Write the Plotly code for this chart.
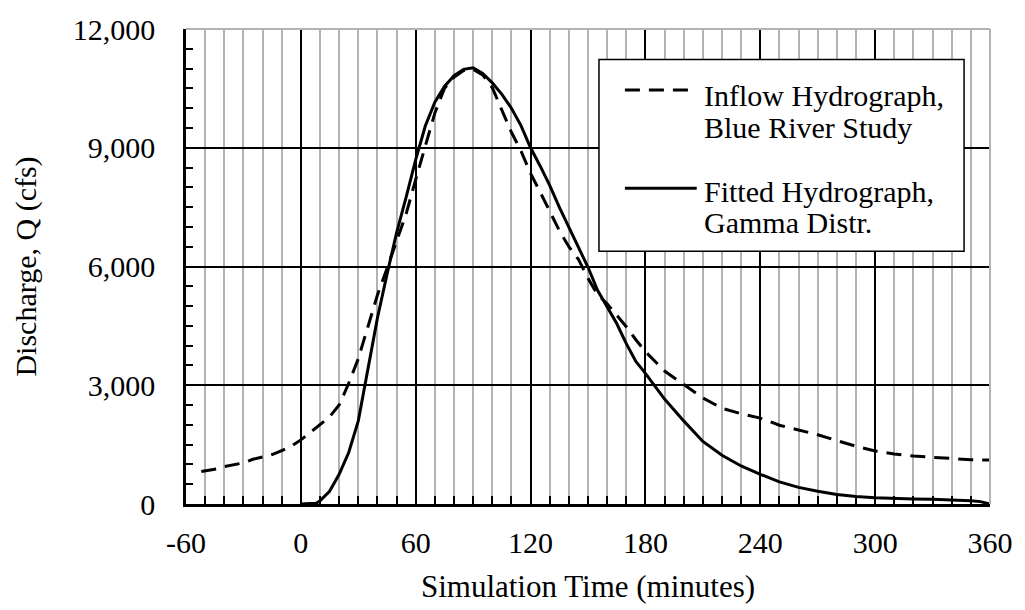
import plotly.graph_objects as go

# ---------------- data ----------------
inflow_t = [-52, -45, -40, -35, -30, -25, -20, -15, -10, -5, 0, 5, 10, 15, 20, 25, 30, 35,
            40, 45, 50, 55, 60, 65, 70, 75, 80, 85, 90, 95, 100, 105, 110, 115, 120, 125,
            130, 135, 140, 145, 150, 155, 160, 165, 170, 175, 180, 190, 200, 210, 220,
            230, 240, 250, 260, 270, 280, 290, 300, 310, 320, 330, 340, 350, 360]
inflow_q = [820, 880, 945, 990, 1040, 1130, 1190, 1250, 1350, 1460, 1620, 1810, 2000, 2200,
            2500, 3050, 3670, 4480, 5280, 5950, 6650, 7330, 8200, 9050, 9880, 10500, 10780,
            10950, 10980, 10840, 10520, 9950, 9390, 8920, 8350, 7880, 7390, 6910, 6500,
            6180, 5700, 5290, 5060, 4780, 4480, 4150, 3850, 3360, 3030, 2680, 2420, 2280,
            2170, 1990, 1870, 1750, 1600, 1460, 1340, 1265, 1210, 1175, 1140, 1120, 1110]

fitted_t = [0, 5, 8, 10, 15, 20, 25, 30, 35, 40, 45, 50, 55, 60, 65, 70, 75, 80, 85, 90,
            95, 100, 105, 110, 115, 120, 125, 130, 135, 140, 145, 150, 155, 160, 165, 170,
            175, 180, 190, 200, 210, 220, 230, 240, 250, 260, 270, 280, 290, 300, 310, 320,
            330, 340, 350, 355, 360]
fitted_q = [0, 5, 20, 80, 320, 750, 1300, 2100, 3450, 4700, 5800, 6850, 7750, 8700, 9550,
            10150, 10550, 10820, 10980, 11020, 10880, 10640, 10350, 10000, 9560, 9000, 8540,
            8050, 7500, 6990, 6500, 5980, 5400, 4990, 4560, 4050, 3600, 3300, 2650, 2100,
            1580, 1230, 960, 750, 560, 420, 320, 240, 190, 160, 135, 125, 118, 105, 85, 60, 0]

series_names = ["Inflow Hydrograph,", "Blue River Study", "Fitted Hydrograph,", "Gamma Distr."]
x_ticks = [-60, 0, 60, 120, 180, 240, 300, 360]
y_ticks = [0, 3000, 6000, 9000, 12000]

FONT = "Liberation Serif"
GRAY = "#b3b3b3"

fig = go.Figure()
fig.add_trace(go.Scatter(x=inflow_t, y=inflow_q, mode="lines",
                         name=series_names[0] + " " + series_names[1],
                         line=dict(color="black", width=3, dash="15px,9px"),
                         showlegend=False))
fig.add_trace(go.Scatter(x=fitted_t, y=fitted_q, mode="lines",
                         name=series_names[2] + " " + series_names[3],
                         line=dict(color="black", width=3),
                         showlegend=False))

# plot-area geometry in pixels: x 186..992, y 22..505
L, R, T, B = 186, 992, 22, 505
W, H = R - L, B - T


def px(xp):
    return (xp - L) / W


def py(yp):
    return (B - yp) / H


shapes = [
    # gray top and right border of plot area
    dict(type="line", xref="paper", yref="paper", x0=0, x1=1, y0=1, y1=1,
         line=dict(color=GRAY, width=2), layer="above"),
    dict(type="line", xref="paper", yref="paper", x0=1, x1=1, y0=0, y1=1,
         line=dict(color=GRAY, width=2), layer="above"),
    # legend box
    dict(type="rect", xref="paper", yref="paper", x0=px(600), x1=px(966), y0=py(248), y1=py(53),
         line=dict(color="black", width=1.5), fillcolor="white", layer="above"),
    # legend samples
    dict(type="line", xref="paper", yref="paper", x0=px(626), x1=px(698), y0=py(84), y1=py(84),
         line=dict(color="black", width=3, dash="15px,9px"), layer="above"),
    dict(type="line", xref="paper", yref="paper", x0=px(626), x1=px(698), y0=py(184), y1=py(184),
         line=dict(color="black", width=3), layer="above"),
]

annotations = []
for txt, yc in zip(series_names, [90, 122, 187, 219]):
    annotations.append(dict(text=txt, xref="paper", yref="paper", x=px(703), y=py(yc),
                            xanchor="left", yanchor="middle", showarrow=False,
                            font=dict(family=FONT, size=30, color="black")))

fig.update_layout(
    width=1025, height=610,
    margin=dict(l=L, r=1025 - R, t=T, b=610 - B),
    paper_bgcolor="white", plot_bgcolor="white",
    font=dict(family=FONT, size=30, color="black"),
    shapes=shapes, annotations=annotations,
    showlegend=False,
)

fig.update_xaxes(
    range=[-60, 360], tickvals=x_ticks, ticktext=[str(v) for v in x_ticks],
    showgrid=True, gridcolor="black", gridwidth=1.5,
    showline=True, linecolor="black", linewidth=2.5,
    ticks="inside", ticklen=8, tickwidth=2, tickcolor="black",
    ticklabelstandoff=10,
    zeroline=False,
    minor=dict(dtick=10, tick0=-60, ticks="inside", ticklen=8, tickwidth=2,
               tickcolor="black", showgrid=True, gridcolor=GRAY, gridwidth=2),
    tickfont=dict(family=FONT, size=30),
    title=dict(text="Simulation Time (minutes)", font=dict(family=FONT, size=31), standoff=18),
)
fig.update_yaxes(
    range=[0, 12000], tickvals=y_ticks, tickformat=",",
    showgrid=True, gridcolor="black", gridwidth=1.5,
    showline=True, linecolor="black", linewidth=2.5,
    ticks="inside", ticklen=7, tickwidth=2, tickcolor="black",
    ticklabelstandoff=22,
    zeroline=False,
    minor=dict(dtick=500, ticks="inside", ticklen=7, tickwidth=2, tickcolor="black",
               showgrid=False),
    tickfont=dict(family=FONT, size=30),
    title=dict(text="Discharge, Q (cfs)", font=dict(family=FONT, size=30), standoff=28),
)

fig.write_html("out.html")
